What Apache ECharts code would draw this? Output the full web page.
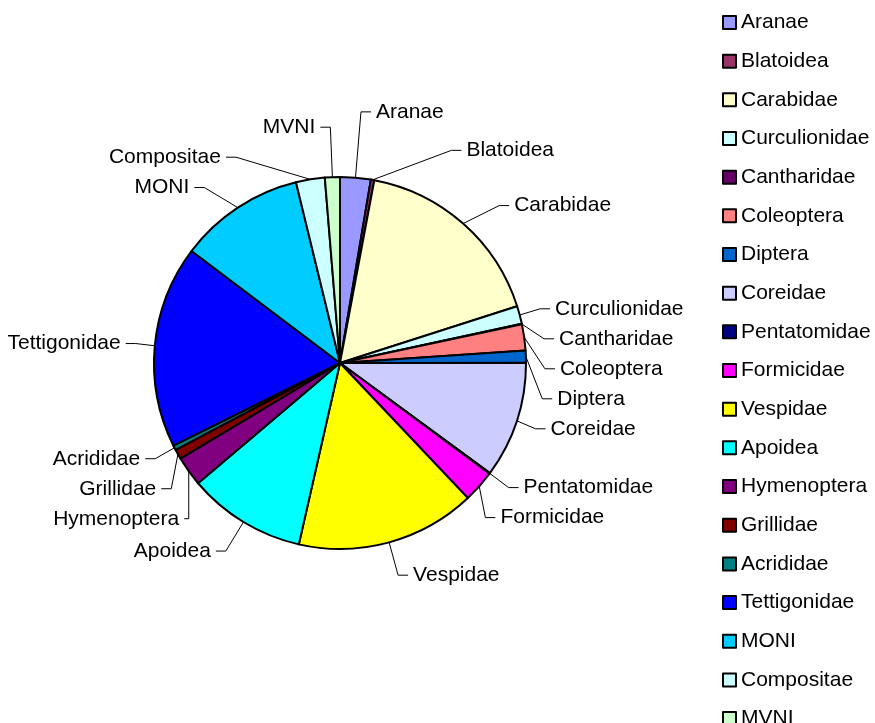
<!DOCTYPE html>
<html>
<head>
<meta charset="utf-8">
<script src="https://cdn.jsdelivr.net/npm/echarts@6/dist/echarts.min.js"></script>
<style>
  html, body { margin: 0; padding: 0; background: #fff; }
  #main { width: 875px; height: 723px; }
</style>
</head>
<body>
<div id="main"></div>
<script>
  var families = ['Aranae', 'Blatoidea', 'Carabidae', 'Curculionidae', 'Cantharidae', 'Coleoptera',
    'Diptera', 'Coreidae', 'Pentatomidae', 'Formicidae', 'Vespidae', 'Apoidea', 'Hymenoptera',
    'Grillidae', 'Acrididae', 'Tettigonidae', 'MONI', 'Compositae', 'MVNI'];
  // share of each group (%)
  var shares = [2.65, 0.3, 17.1, 1.55, 0.05, 2.25, 1.05, 10.1, 0.05, 2.8, 15.6, 10.25, 2.6,
    0.85, 0.4, 17.6, 10.9, 2.5, 1.3];
  var palette = ['#9999FF', '#993366', '#FFFFCC', '#CCFFFF', '#660066', '#FF8080', '#0066CC',
    '#CCCCFF', '#000080', '#FF00FF', '#FFFF00', '#00FFFF', '#800080', '#800000', '#008080',
    '#0000FF', '#00CCFF', '#CCFFFF', '#CCFFCC'];
  // longer leader lines for a few labels
  var leaderLength = { Aranae: 66, Blatoidea: 30, MVNI: 50, Compositae: 36, Vespidae: 34, Apoidea: 34 };

  var myChart = echarts.init(document.getElementById('main'));
  var pieData = families.map(function (name, i) {
    var item = { name: name, value: shares[i] };
    if (leaderLength[name]) {
      item.labelLine = { length: leaderLength[name] };
    }
    return item;
  });

  var option = {
    animation: false,
    color: palette,
    textStyle: { fontFamily: 'Liberation Sans, Arial, sans-serif' },
    legend: {
      orient: 'vertical',
      left: 722,
      top: 12,
      height: 760,
      padding: 0,
      itemWidth: 13,
      itemHeight: 13,
      itemGap: 17.67,
      icon: 'rect',
      selectedMode: false,
      itemStyle: { borderColor: '#000', borderWidth: 2 },
      textStyle: { fontSize: 21, color: '#000' },
      data: families
    },
    series: [{
      type: 'pie',
      center: [340, 363],
      radius: 186,
      startAngle: 90,
      clockwise: true,
      avoidLabelOverlap: true,
      minShowLabelAngle: 0,
      itemStyle: { borderColor: '#000', borderWidth: 2 },
      label: {
        show: true,
        color: '#000',
        fontSize: 21,
        lineHeight: 28,
        overflow: 'none',
        formatter: '{b}'
      },
      labelLine: {
        show: true,
        length: 24,
        length2: 10,
        lineStyle: { color: '#000', width: 1 }
      },
      emphasis: { disabled: true },
      data: pieData
    }]
  };
  myChart.setOption(option);
</script>
</body>
</html>
